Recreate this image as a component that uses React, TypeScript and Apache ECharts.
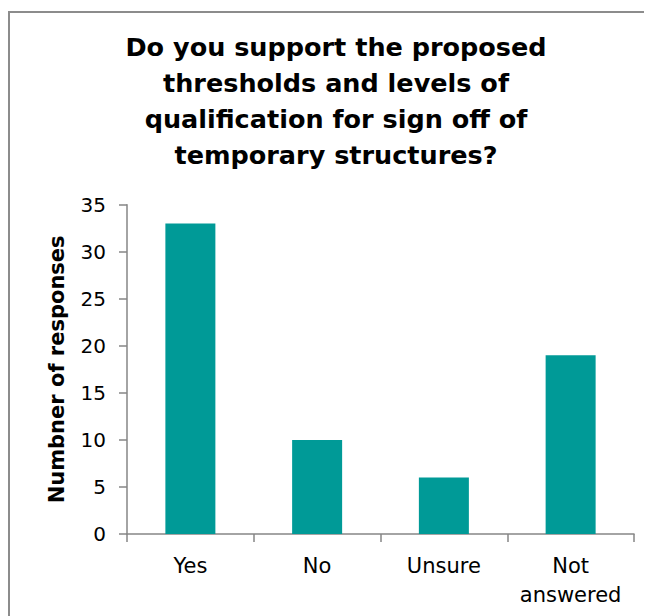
import React, { useEffect, useRef } from "react";
import * as echarts from "echarts";

const titleLines = [
  "Do you support the proposed",
  "thresholds and levels of",
  "qualification for sign off of",
  "temporary structures?",
];
const categories = ["Yes", "No", "Unsure", "Not\nanswered"];
const responses = [33, 10, 6, 19];
const yAxisName = "Numbner of responses";
const yMin = 0;
const yMax = 35;
const yInterval = 5;

export default function App() {
  const ref = useRef<HTMLDivElement>(null);
  useEffect(() => {
    if (!ref.current) return;
    const chart = echarts.init(ref.current, null, { renderer: "svg" });
    const font = "'DejaVu Sans', Verdana, Tahoma, sans-serif";
    chart.setOption({
      animation: false,
      backgroundColor: "#ffffff",
      textStyle: { fontFamily: font },
      title: {
        text: titleLines.join("\n"),
        left: 328,
        top: 21,
        textAlign: "center",
        padding: 0,
        textStyle: {
          fontFamily: font,
          fontSize: 25.5,
          fontWeight: "bold",
          lineHeight: 36,
          color: "#000000",
        },
      },
      graphic: [
        {
          type: "rect",
          silent: true,
          shape: { x: 1, y: 4, width: 2000, height: 2000 },
          style: { fill: "none", stroke: "#8c8c8c", lineWidth: 2 },
        },
      ],
      grid: { left: 119, top: 196.7, right: 18, bottom: 82, containLabel: false },
      xAxis: {
        type: "category",
        data: categories,
        boundaryGap: true,
        axisLine: { show: true, lineStyle: { color: "#868686", width: 1.5 } },
        axisTick: { show: true, length: 8, alignWithLabel: false, lineStyle: { color: "#868686", width: 1.5 } },
        axisLabel: {
          fontFamily: font,
          fontSize: 21,
          lineHeight: 29,
          color: "#000000",
          margin: 17,
          interval: 0,
        },
      },
      yAxis: {
        type: "value",
        min: yMin,
        max: yMax,
        interval: yInterval,
        name: yAxisName,
        nameLocation: "middle",
        nameGap: 60,
        nameTextStyle: {
          fontFamily: font,
          fontSize: 21,
          fontWeight: "bold",
          color: "#000000",
        },
        axisLine: { show: true, lineStyle: { color: "#868686", width: 1.5 } },
        axisTick: { show: true, length: 8, inside: false, lineStyle: { color: "#868686", width: 1.5 } },
        splitLine: { show: false },
        axisLabel: {
          fontFamily: font,
          fontSize: 20,
          color: "#000000",
          margin: 21,
        },
      },
      series: [
        {
          type: "bar",
          data: responses,
          barWidth: 50,
          itemStyle: { color: "#009a97" },
        },
      ],
    });
    return () => chart.dispose();
  }, []);
  return <div ref={ref} style={{ width: 644, height: 608 }} />;
}
